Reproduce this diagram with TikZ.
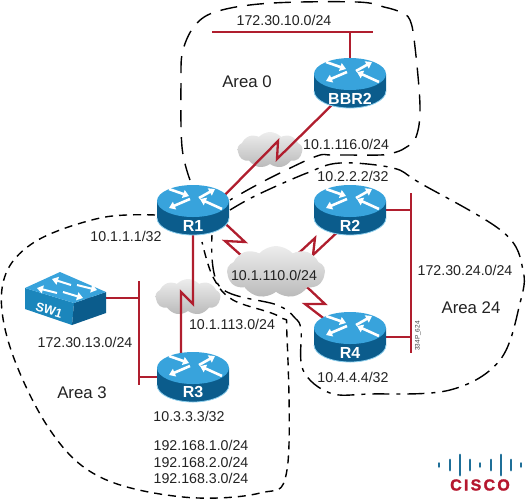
\documentclass[tikz,border=0pt]{standalone}
\usepackage{fontspec}
\setmainfont{Liberation Sans}
\newfontfamily\ciscofont[LetterSpace=14, BoldFeatures={FakeBold=1.5}]{Liberation Sans}
\usetikzlibrary{arrows.meta,shapes.symbols}
\definecolor{cLink}{HTML}{B01E2E}
\definecolor{cTop}{HTML}{38A3DC}
\definecolor{cSideDark}{HTML}{0B5C8C}
\definecolor{cSideMid}{HTML}{1B86BC}
\definecolor{cRim}{HTML}{8FD0EE}
\definecolor{cInk}{HTML}{222222}
\definecolor{cBars}{HTML}{1F6F98}
\definecolor{cLogo}{HTML}{B5172F}
\tikzset{
  link/.style={draw=cLink, line width=2.3pt, line join=miter},
  area0/.style={draw=black, line width=1.4pt, dash pattern=on 17pt off 10pt},
  area3/.style={draw=black, line width=1.4pt, dash pattern=on 8pt off 6pt},
  area24/.style={draw=black, line width=1.4pt, dash pattern=on 17pt off 7pt on 4pt off 7pt},
  addr/.style={font=\fontsize{14.2}{16.5}\selectfont, text=cInk, inner sep=0pt, align=center},
  areaname/.style={font=\fontsize{16.8}{19}\selectfont, text=cInk, inner sep=0pt},
  router/.style={minimum width=72pt, minimum height=50pt, inner sep=0pt, text=white,
    font=\fontsize{16}{18}\selectfont\bfseries, text height=42pt},
  switchbox/.style={minimum width=81pt, minimum height=54pt, inner sep=0pt},
  netcloud/.style={cloud, cloud puffs=9, cloud puff arc=95, cloud ignores aspect, inner sep=0pt,
    top color=black!7, bottom color=black!27, draw=none},
  whitearrow/.style={draw=white, line width=2.6pt, -{Triangle[length=6pt, width=8pt]}},
  pics/routerbody/.style={code={
    \path[left color=cSideDark, middle color=cSideMid, right color=cSideDark]
      (-36,9) -- (-36,-8) arc[start angle=180, end angle=360, x radius=36, y radius=17] -- (36,9) -- cycle;
    \draw[cRim, line width=0.8pt] (-36,-8) arc[start angle=180, end angle=360, x radius=36, y radius=17];
    \fill[cTop] (0,9) ellipse[x radius=36, y radius=16];
    \draw[whitearrow] (-24,21) -- (-4,14);
    \draw[whitearrow] (6,12) -- (22,21);
    \draw[whitearrow] (-3,11) -- (-24,2);
    \draw[whitearrow] (29,1) -- (7,11);
  }},
  pics/switchbody/.style={code={
    \fill[cSideMid] (-40,10) -- (9,-5) -- (7,-27) -- (-40,-11) -- cycle;
    \fill[cSideDark] (9,-5) -- (41,6) -- (41,-15) -- (7,-27) -- cycle;
    \fill[cTop] (-5,26) -- (-40,10) -- (9,-5) -- (41,6) -- cycle;
    \draw[whitearrow, line width=2pt] (6,13) -- (-13,19);
    \draw[whitearrow, line width=2pt] (12,13) -- (32,8);
    \draw[whitearrow, line width=2pt] (-8,5) -- (-28,10);
    \draw[whitearrow, line width=2pt] (-2,6) -- (18,0);
  }},
}

\begin{document}
\begin{tikzpicture}[x=1pt, y=1pt]
\useasboundingbox (0,0) rectangle (526,-499);

% area outlines sit behind everything
\draw[area0] plot[smooth, tension=0.6] coordinates {(190,-180) (182,-147) (181,-83) (183,-50) (197,-23) (222,-10)
  (273,-3) (357,-2) (384,-7) (400,-12) (410,-20) (415,-47) (420,-107) (416,-137) (405,-148) (393,-153) (380,-155)
  (333,-155) (317,-156) (280,-173) (253,-187) (230,-200)};
\draw[area24] plot[smooth, tension=0.6] coordinates {(230,-210) (257,-195) (307,-173) (340,-163) (393,-168) (420,-183)
  (503,-232) (523,-270) (520,-303) (500,-360) (450,-390) (370,-394) (330,-393) (303,-370) (301,-330)
  (295,-318) (277,-305) (220,-287) (212,-235)};
\draw[area3] plot[smooth, tension=0.6] coordinates {(155,-215) (100,-218) (33,-243) (3,-283) (10,-347) (50,-430)
  (100,-477) (183,-497) (260,-493) (287,-470) (287,-337) (280,-317) (233,-300) (213,-277) (202,-242)};

% clouds under the red links
\node[netcloud, minimum width=65pt, minimum height=36pt] (cloud116) at (270,-150) {};
\node[netcloud, minimum width=65pt, minimum height=36pt] (cloud113) at (188,-297) {};

% devices are placed first so that links can refer to them
\coordinate (lan10a) at (212,-32);
\coordinate (lan10b) at (373,-32);
\coordinate (lan24a) at (411,-193);
\coordinate (lan24b) at (411,-353);
\coordinate (lan13a) at (139,-281);
\coordinate (lan13b) at (139,-385);
\node[router] (BBR2) at (350,-83) {};
\node[router] (R1) at (193,-210) {};
\node[router] (R2) at (350,-210) {};
\node[router] (R3) at (193,-377) {};
\node[router] (R4) at (350,-337) {};
\node[switchbox] (SW1) at (65,-298) {};
\node[minimum width=98pt, minimum height=52pt, inner sep=0pt] (cloud110) at (276,-272) {};

% lan segments
\draw[link] (lan10a) -- (lan10b);
\draw[link] (lan24a) -- (lan24b);
\draw[link] (lan13a) -- (lan13b);
\draw[link] (BBR2.center) -- (BBR2.center |- lan10a);
\draw[link] (R2.center) -- (R2.center -| lan24a);
\draw[link] (R4.center) -- (R4.center -| lan24a);
\draw[link] (SW1.center) -- (SW1.center -| lan13a);
\draw[link] (R3.center) -- (R3.center -| lan13a);

% serial links with their zigzag
\draw[link] ([shift={(-9,-13)}]BBR2.center) -- (277,-159) -- (278,-141) -- ([shift={(22,5)}]R1.center);
\draw[link] (R1.center) -- (193,-304) -- (181,-292) -- ([xshift=-12pt]R3.center);
\draw[link] ([shift={(22,-4)}]R1.center) -- (245,-242) -- (225,-241) -- (243,-257) -- (cloud110.center);
\draw[link] ([shift={(-5,-15)}]R2.center) -- (313,-255) -- (315,-238) -- (301,-251) -- (cloud110.center);
\draw[link] ([shift={(-15,10)}]R4.center) -- (305,-304) -- (325,-304) -- (308,-288) -- (cloud110.center);

% this cloud hides the ends of its three links
\node[netcloud, minimum width=98pt, minimum height=52pt] (cloud110top) at (cloud110) {};

% device bodies and labels on top
\pic at (BBR2) {routerbody};
\pic at (R1) {routerbody};
\pic at (R2) {routerbody};
\pic at (R3) {routerbody};
\pic at (R4) {routerbody};
\pic at (SW1) {switchbody};
\node[router] (BBR2text) at (BBR2) {BBR2};
\node[router] (R1text) at (R1) {R1};
\node[router] (R2text) at (R2) {R2};
\node[router] (R3text) at (R3) {R3};
\node[router] (R4text) at (R4) {R4};
\node[font=\fontsize{12.5}{14}\selectfont\bfseries, text=white, rotate=-17, inner sep=0pt] (SW1text) at (49,-310) {SW1};

% addresses
\node[addr] (net10) at (284,-20) {172.30.10.0/24};
\node[addr] (net116) at (346,-144) {10.1.116.0/24};
\node[addr] (lo2) at (353,-176) {10.2.2.2/32};
\node[addr] (lo1) at (126,-236) {10.1.1.1/32};
\node[addr] (net110) at (274,-275) {10.1.110.0/24};
\node[addr] (net113) at (232,-324) {10.1.113.0/24};
\node[addr] (net13) at (85,-342) {172.30.13.0/24};
\node[addr] (lo3) at (189,-416) {10.3.3.3/32};
\node[addr] (net192) at (201,-462) {192.168.1.0/24\\192.168.2.0/24\\192.168.3.0/24};
\node[addr] (net24) at (465,-270) {172.30.24.0/24};
\node[addr] (lo4) at (353,-377) {10.4.4.4/32};
\node[areaname] (area0name) at (247,-82) {Area 0};
\node[areaname] (area3name) at (82,-393) {Area 3};
\node[areaname] (area24name) at (471,-308) {Area 24};
\node[font=\fontsize{6.5}{7}\selectfont, text=black!75, rotate=90, inner sep=0pt] (figid) at (418,-336) {334P\_624};

% logo
\foreach \x/\h in {439/6,450/13,460/23,470/13,480/6,491/13,501/23,511/13,521/6}
  \draw[cBars, line width=2.8pt, line cap=round] (\x,-465+\h/2-1.4) -- (\x,-465-\h/2+1.4);
\node[font=\ciscofont\fontsize{16}{18}\selectfont\bfseries, text=cLogo, inner sep=0pt] (ciscologo) at (480,-485) {CISCO};
\end{tikzpicture}
\end{document}
